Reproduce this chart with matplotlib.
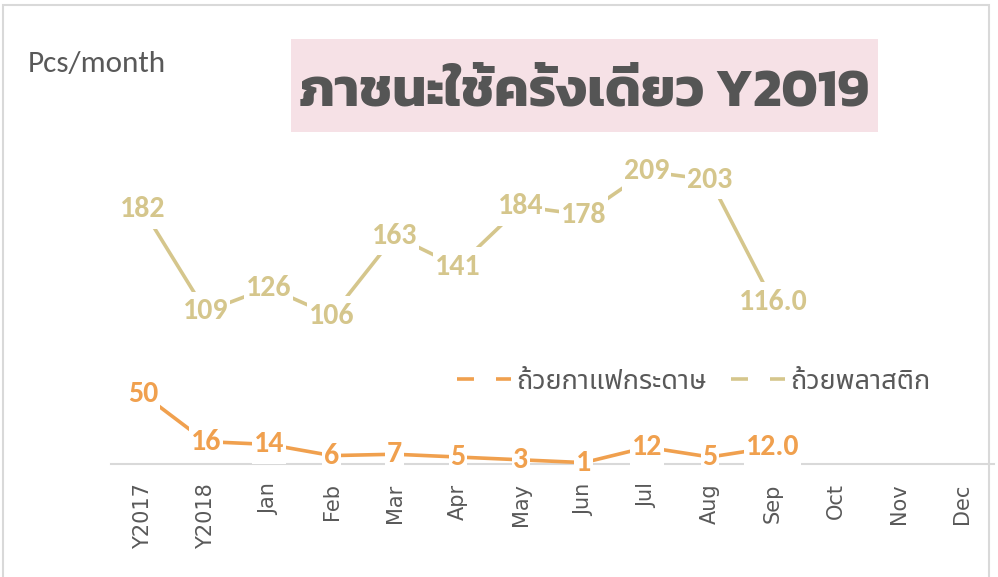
import matplotlib
matplotlib.use("Agg")
import matplotlib.pyplot as plt
from matplotlib.patches import Rectangle
from matplotlib.lines import Line2D
from matplotlib.path import Path

categories = ["Y2017", "Y2018", "Jan", "Feb", "Mar", "Apr", "May", "Jun",
              "Jul", "Aug", "Sep", "Oct", "Nov", "Dec"]
paper_cup = [50, 16, 14, 6, 7, 5, 3, 1, 12, 5, 12.0]
plastic_cup = [182, 109, 126, 106, 163, 141, 184, 178, 209, 203, 116.0]
paper_labels = ["50", "16", "14", "6", "7", "5", "3", "1", "12", "5", "12.0"]
plastic_labels = ["182", "109", "126", "106", "163", "141", "184", "178", "209", "203", "116.0"]
series_names = ["ถ้วยกาแฟกระดาษ", "ถ้วยพลาสติก"]
title = "ภาชนะใช้ครั้งเดียว Y2019"

orange = "#F0A04E"
tan = "#D5C68C"
grey_txt = "#595959"
thai_fonts = ["Noto Sans Thai", "Sarabun", "DejaVu Sans"]
label_fonts = ["Carlito", "Lato", "DejaVu Sans"]


def label_box(x0, y0, width, height, mutation_size):
    # white box behind data labels: tight at the sides, taller above/below
    px, py = 0.06 * mutation_size, 0.22 * mutation_size
    return Path([(x0 - px, y0 - py), (x0 + width + px, y0 - py),
                 (x0 + width + px, y0 + height + py), (x0 - px, y0 + height + py),
                 (x0 - px, y0 - py)], closed=True)


fig = plt.figure(figsize=(9.98, 5.77), dpi=100)
ax = fig.add_axes([0.1115, 0.1958, 0.8840, 0.7279])

# chart frame
fig.patches.append(Rectangle((0.003, -0.05), 0.988, 1.05 - 5 / 577, transform=fig.transFigure,
                             fill=False, edgecolor="#D9D9D9", lw=1.5))

x = list(range(len(paper_cup)))
for vals, labs, col in [(paper_cup, paper_labels, orange), (plastic_cup, plastic_labels, tan)]:
    ax.plot(x, vals, color=col, lw=2.6, solid_capstyle="butt", zorder=2)
    for xi, v, s in zip(x, vals, labs):
        ax.text(xi, v, s, ha="center", va="center", fontsize=21.5, fontweight="bold",
                color=col, family=label_fonts, zorder=4, clip_on=False,
                bbox=dict(boxstyle=label_box, fc="white", ec="none"))

ax.set_xlim(-0.5, len(categories) - 0.5)
ax.set_ylim(0, 300)
ax.set_xticks(range(len(categories)))
ax.set_xticklabels(categories, rotation=90, fontsize=15, color=grey_txt)
ax.tick_params(axis="x", length=0, pad=14)
ax.set_yticks([])
for side in ["left", "right", "top"]:
    ax.spines[side].set_visible(False)
ax.spines["bottom"].set_color("#D9D9D9")
ax.spines["bottom"].set_linewidth(1.5)
ax.spines["bottom"].set_zorder(1)

# legend
handles = [Line2D([], [], color=c, lw=2.6, linestyle=(0, (4.7, 6.1))) for c in (orange, tan)]
leg = fig.legend(handles, series_names, loc="center", bbox_to_anchor=(0.695, 0.338),
                 ncol=2, frameon=False, handlelength=2.0, handletextpad=0.18,
                 columnspacing=0.92, prop=dict(family=thai_fonts, size=19.5, weight="light"))
for t in leg.get_texts():
    t.set_color(grey_txt)

fig.text(0.028, 1 - 72 / 577, "Pcs/month", fontsize=22.5, color=grey_txt,
         family=["Carlito", "Lato", "DejaVu Sans"], va="baseline")

# title box
fig.patches.append(Rectangle((0.2916, 1 - 132 / 577), 0.5882, 93 / 577,
                             transform=fig.transFigure, fc="#F6E1E6", ec="none"))
fig.text(0.585, 1 - 105 / 577, title, ha="center", va="baseline", fontsize=39,
         fontweight="bold", color="#555555", family=["Kanit", "DejaVu Sans"])

fig.savefig("out.png", dpi=100)
